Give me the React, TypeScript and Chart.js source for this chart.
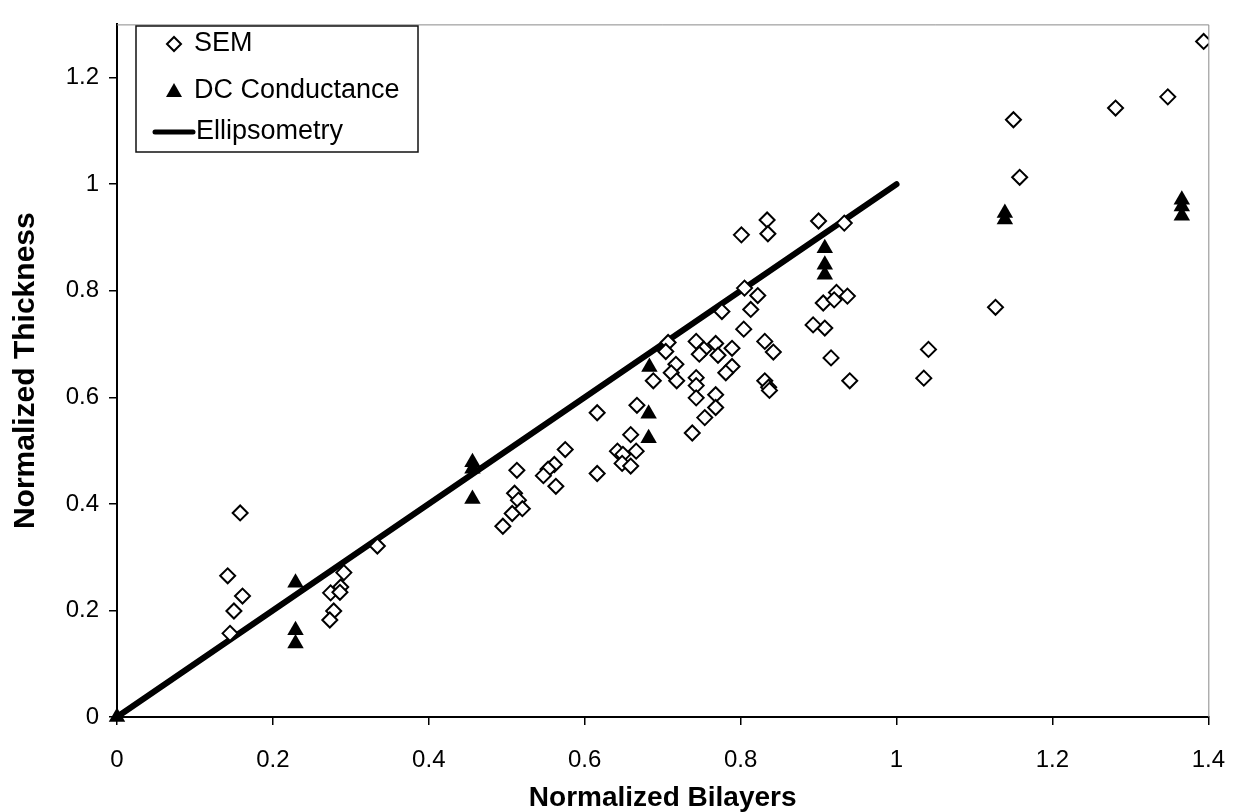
import React, { useEffect, useRef } from 'react';
import { Chart, registerables } from 'chart.js';

Chart.register(...registerables);

// SEM measurements
const semX = [
  0.158, 0.142, 0.161, 0.150, 0.145, 0.334, 0.291, 0.287, 0.274, 0.286, 0.278, 0.273,
  0.513, 0.575, 0.561, 0.553, 0.547, 0.563, 0.510, 0.515, 0.520, 0.507, 0.495,
  0.616, 0.616, 0.667, 0.659, 0.642, 0.649, 0.666, 0.648, 0.659, 0.688,
  0.707, 0.704, 0.743, 0.768, 0.753, 0.747, 0.771, 0.789, 0.717, 0.711, 0.718,
  0.789, 0.781, 0.743, 0.743, 0.743, 0.768, 0.768, 0.754, 0.738,
  0.831, 0.842, 0.831, 0.836, 0.837, 0.776, 0.805, 0.822, 0.813, 0.804,
  0.801, 0.834, 0.835, 0.900, 0.933, 0.923, 0.937, 0.906, 0.920, 0.908, 0.893, 0.916, 0.940,
  1.035, 1.041, 1.127, 1.150, 1.158, 1.281, 1.348, 1.394,
];
const semY = [
  0.383, 0.265, 0.227, 0.199, 0.157, 0.321, 0.271, 0.244, 0.233, 0.234, 0.199, 0.182,
  0.463, 0.502, 0.474, 0.465, 0.453, 0.433, 0.420, 0.407, 0.391, 0.382, 0.358,
  0.571, 0.457, 0.585, 0.530, 0.499, 0.493, 0.499, 0.476, 0.471, 0.631,
  0.703, 0.686, 0.705, 0.701, 0.690, 0.681, 0.679, 0.692, 0.662, 0.646, 0.631,
  0.658, 0.646, 0.637, 0.622, 0.599, 0.605, 0.581, 0.562, 0.533,
  0.705, 0.685, 0.631, 0.619, 0.613, 0.761, 0.805, 0.791, 0.765, 0.728,
  0.905, 0.933, 0.907, 0.931, 0.927, 0.797, 0.790, 0.777, 0.783, 0.730, 0.736, 0.674, 0.631,
  0.636, 0.690, 0.769, 1.121, 1.013, 1.143, 1.164, 1.268,
];

// DC Conductance measurements
const dcX = [0, 0.229, 0.229, 0.229, 0.456, 0.456, 0.456, 0.683, 0.682, 0.682, 0.908, 0.908, 0.908, 1.139, 1.139, 1.366, 1.366, 1.366];
const dcY = [0, 0.252, 0.163, 0.138, 0.478, 0.466, 0.409, 0.657, 0.569, 0.523, 0.880, 0.849, 0.830, 0.946, 0.934, 0.971, 0.958, 0.941];

// Ellipsometry reference line
const ellX = [0, 1];
const ellY = [0, 1];

const xTicks = [0, 0.2, 0.4, 0.6, 0.8, 1, 1.2, 1.4];
const yTicks = [0, 0.2, 0.4, 0.6, 0.8, 1, 1.2];

const legendLabels = ['SEM', 'DC Conductance', 'Ellipsometry'];

const FONT = '"Liberation Sans", Arial, sans-serif';

export default function App() {
  const ref = useRef<HTMLCanvasElement>(null);

  useEffect(() => {
    const canvas = ref.current;
    if (!canvas) return;
    const pts = (xs: number[], ys: number[]) => xs.map((x, i) => ({ x, y: ys[i] }));

    const frame = {
      id: 'frame',
      beforeDatasetsDraw(chart: any) {
        const c = chart.ctx;
        const a = chart.chartArea;
        c.save();
        c.strokeStyle = '#8a8a8a';
        c.lineWidth = 1;
        c.beginPath();
        c.moveTo(a.left, a.top + 0.5);
        c.lineTo(a.right + 0.5, a.top + 0.5);
        c.lineTo(a.right + 0.5, a.bottom);
        c.stroke();
        c.restore();
      },
    };

    const boxLegend = {
      id: 'boxLegend',
      afterDraw(chart: any) {
        const c = chart.ctx;
        c.save();
        const bx = 136, by = 26, bw = 282, bh = 126;
        c.fillStyle = '#fff';
        c.fillRect(bx, by, bw, bh);
        c.strokeStyle = '#111';
        c.lineWidth = 1.5;
        c.strokeRect(bx, by, bw, bh);
        const rows = [44, 91, 132];
        const mx = 174;
        // diamond
        c.lineWidth = 2;
        c.strokeStyle = '#000';
        c.beginPath();
        c.moveTo(mx - 7, rows[0]);
        c.lineTo(mx, rows[0] - 7);
        c.lineTo(mx + 7, rows[0]);
        c.lineTo(mx, rows[0] + 7);
        c.closePath();
        c.stroke();
        // triangle
        c.fillStyle = '#000';
        c.beginPath();
        c.moveTo(mx, rows[1] - 8);
        c.lineTo(mx + 8, rows[1] + 6);
        c.lineTo(mx - 8, rows[1] + 6);
        c.closePath();
        c.fill();
        // line
        c.lineWidth = 5;
        c.lineCap = 'round';
        c.beginPath();
        c.moveTo(155, rows[2]);
        c.lineTo(193, rows[2]);
        c.stroke();
        c.font = '27px ' + FONT;
        c.fillStyle = '#000';
        c.textBaseline = 'middle';
        c.textAlign = 'left';
        c.fillText(legendLabels[0], 194, rows[0]);
        c.fillText(legendLabels[1], 194, rows[1]);
        c.fillText(legendLabels[2], 196, rows[2]);
        c.restore();
      },
    };

    const fmt = (v: any) => String(Number(Number(v).toFixed(1)));

    const chart = new Chart(canvas, {
      type: 'scatter',
      data: {
        datasets: [
          {
            label: 'Ellipsometry',
            data: pts(ellX, ellY),
            showLine: true,
            borderColor: '#000',
            borderWidth: 6,
            borderCapStyle: 'round',
            pointRadius: 0,
            order: 3,
          } as any,
          {
            label: 'SEM',
            data: pts(semX, semY),
            pointStyle: 'rectRot',
            pointRadius: 7.5,
            pointBorderWidth: 2,
            pointBorderColor: '#000',
            pointBackgroundColor: '#fff',
            order: 2,
          },
          {
            label: 'DC Conductance',
            data: pts(dcX, dcY),
            pointStyle: 'triangle',
            pointRadius: 9.5,
            pointBorderWidth: 0,
            pointBackgroundColor: '#000',
            pointBorderColor: '#000',
            clip: false,
            order: 1,
          } as any,
        ],
      },
      options: {
        responsive: false,
        animation: false,
        layout: { padding: { left: 0, top: 13, right: 22, bottom: 0 } },
        plugins: { legend: { display: false }, tooltip: { enabled: false } },
        scales: {
          x: {
            type: 'linear',
            min: 0,
            max: 1.4,
            afterFit: (s: any) => { s.height = 95; },
            afterBuildTicks: (s: any) => { s.ticks = xTicks.map((v) => ({ value: v })); },
            border: { color: '#000', width: 2 },
            grid: { drawOnChartArea: false, drawTicks: true, tickLength: 8, color: '#000', lineWidth: 1.5 },
            ticks: { color: '#000', font: { family: FONT, size: 24 }, padding: 21, callback: fmt, maxRotation: 0 },
            title: { display: true, text: 'Normalized Bilayers', color: '#000', font: { family: FONT, size: 28, weight: 'bold', lineHeight: 1 }, padding: { top: 0, bottom: 0 } },
          },
          y: {
            type: 'linear',
            min: 0,
            max: 1.3,
            afterFit: (s: any) => { s.width = 117; },
            afterBuildTicks: (s: any) => { s.ticks = yTicks.map((v) => ({ value: v })); },
            border: { color: '#000', width: 2 },
            grid: { drawOnChartArea: false, drawTicks: true, tickLength: 8, color: '#000', lineWidth: 1.5 },
            ticks: { color: '#000', font: { family: FONT, size: 24 }, padding: 10, callback: fmt },
            title: { display: true, text: 'Normalized Thickness', color: '#000', font: { family: FONT, size: 30, weight: 'bold', lineHeight: 1 }, padding: { top: 11, bottom: 0 } },
          },
        },
      },
      plugins: [frame, boxLegend],
    } as any);

    return () => chart.destroy();
  }, []);

  return (
    <div style={{ position: 'absolute', left: 0, top: 0, width: 1246, height: 812, background: '#fff' }}>
      <canvas ref={ref} width={1246} height={812} style={{ width: 1246, height: 812, display: 'block' }} />
    </div>
  );
}
